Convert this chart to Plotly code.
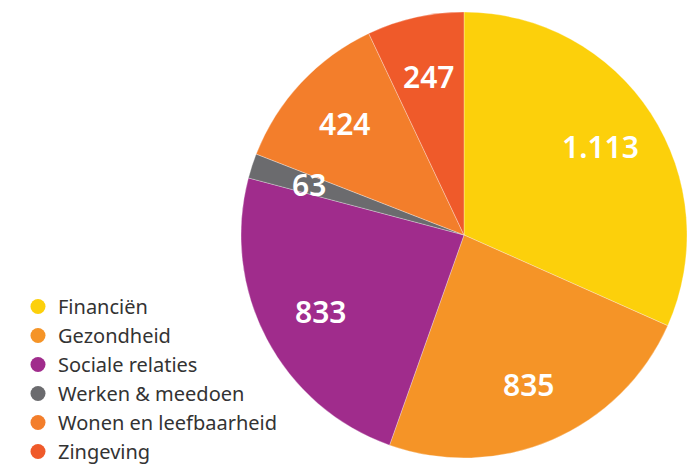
import math
import plotly.graph_objects as go

labels = ["Financiën", "Gezondheid", "Sociale relaties", "Werken & meedoen",
          "Wonen en leefbaarheid", "Zingeving"]
values = [1113, 835, 833, 63, 424, 247]
colors = ["#FCD00B", "#F59427", "#A02C8C", "#6B6B6E", "#F37E2B", "#EF5A2A"]

W, H = 692, 464
dom_x = [241 / W, 687 / W]
dom_y = [5 / H, 453 / H]

fig = go.Figure()
fig.add_trace(go.Pie(
    labels=labels, values=values, sort=False, direction="clockwise", rotation=0,
    marker=dict(colors=colors, line=dict(color="rgba(255,255,255,0.6)", width=0.5)),
    textinfo="none", showlegend=False, hoverinfo="label+value",
    domain=dict(x=dom_x, y=dom_y),
))
for lab, col in zip(labels, colors):
    fig.add_trace(go.Scatter(x=[None], y=[None], mode="markers", name=lab,
                             marker=dict(color=col, size=15, symbol="circle")))

# value labels placed at each slice's mid-angle, derived from the values
cx = (dom_x[0] + dom_x[1]) / 2
cy = (dom_y[0] + dom_y[1]) / 2
R = min((dom_x[1] - dom_x[0]) * W, (dom_y[1] - dom_y[0]) * H) / 2
total = sum(values)
cum = 0
for v in values:
    mid = (cum + v / 2) / total * 2 * math.pi
    cum += v
    r = 0.73 * R
    fig.add_annotation(
        x=cx + r * math.sin(mid) / W, y=cy + r * math.cos(mid) / H,
        xref="paper", yref="paper", showarrow=False,
        xanchor="center", yanchor="middle",
        text=f"{v:,}".replace(",", "."),
        font=dict(color="white", size=30, family="Noto Sans", weight=600),
    )

fig.update_layout(
    width=W, height=H, margin=dict(l=0, r=0, t=0, b=0, autoexpand=False),
    paper_bgcolor="white", plot_bgcolor="white", separators=",.",
    xaxis=dict(visible=False), yaxis=dict(visible=False),
    legend=dict(x=0.026, y=-0.015, xanchor="left", yanchor="bottom",
                font=dict(family="Noto Sans", size=20, color="#333333"),
                bgcolor="rgba(0,0,0,0)"),
)
fig.write_html("out.html", config={"displayModeBar": False},
               post_script="document.body.style.margin='0';")
